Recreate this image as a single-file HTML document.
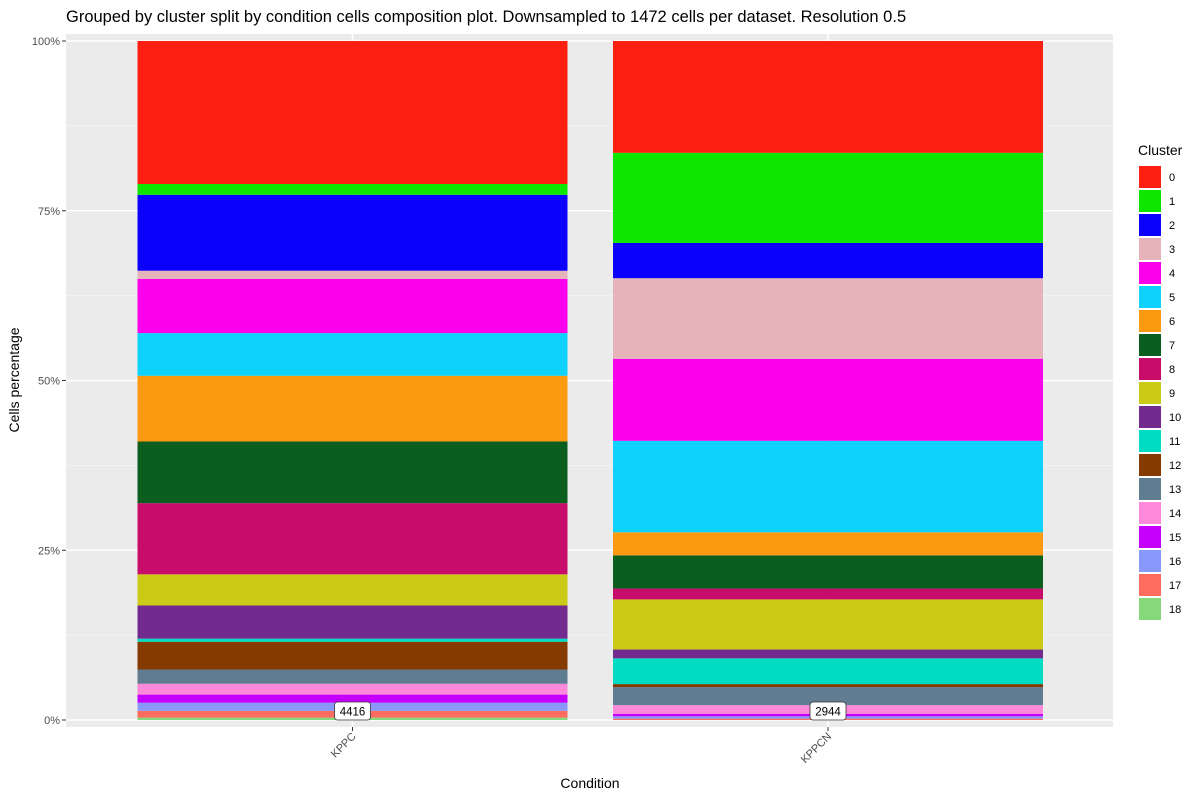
<!DOCTYPE html>
<html><head><meta charset="utf-8"><style>
body{margin:0;background:#fff;font-family:"Liberation Sans",Arial,sans-serif}
svg text{font-family:"Liberation Sans",Arial,sans-serif}
</style></head><body>
<svg id="chart" width="1200" height="800" xmlns="http://www.w3.org/2000/svg">
<text x="66" y="22" font-size="16.5" fill="#000">Grouped by cluster split by condition cells composition plot. Downsampled to 1472 cells per dataset. Resolution 0.5</text>
<rect x="66" y="34" width="1047" height="693" fill="#ebebeb"/>
<g id="grid"></g>
<g id="bars"></g>
<g id="axes"></g>
<text transform="translate(19,380) rotate(-90)" text-anchor="middle" font-size="14">Cells percentage</text>
<text x="590" y="788" text-anchor="middle" font-size="14">Condition</text>
<text x="1138" y="155" font-size="14">Cluster</text>
<g id="legend"></g>
</svg>
<script>
const categories = ["KPPC", "KPPCN"];
const totals = [4416, 2944];
const clusters = ["0","1","2","3","4","5","6","7","8","9","10","11","12","13","14","15","16","17","18"];
const colors = ["#fc1e10","#0ee600","#0a00fc","#e7b3bb","#fb00ec","#0ed2fc","#fb9a10","#0c5e1f","#c80c69","#cbca16","#732a8f","#00dcc1","#853a00","#5f7c91","#fe88d9","#c400fc","#8898fb","#fd6c5c","#85d97a"];
const kppcValues = [21.1,1.6,11.2,1.2,8.0,6.3,9.7,9.1,10.5,4.6,4.9,0.45,4.1,2.1,1.6,1.2,1.2,1.0,0.35];
const kppcnValues = [16.5,13.3,5.2,11.9,12.1,13.5,3.4,4.9,1.6,7.4,1.3,3.8,0.45,2.65,1.3,0.35,0.35,0.2,0.0];
const yTicks = [0,25,50,75,100];
const yTickLabels = ["0%","25%","50%","75%","100%"];

const NS="http://www.w3.org/2000/svg";
const y0=720, y100=41;
const yScale=p=>y0-(y0-y100)*p/100;
const xCenters=[352.5,828], barW=430;
const xScale=i=>xCenters[i];
function mk(tag,attrs,parent){const e=document.createElementNS(NS,tag);for(const k in attrs)e.setAttribute(k,attrs[k]);parent.appendChild(e);return e;}
const grid=document.getElementById('grid'), bars=document.getElementById('bars'), axes=document.getElementById('axes'), legend=document.getElementById('legend');
// minor grid
for(let i=0;i<yTicks.length-1;i++){const m=(yTicks[i]+yTicks[i+1])/2;const l=mk('line',{x1:66,x2:1113,y1:yScale(m),y2:yScale(m),stroke:'#f5f5f5','stroke-width':0.8},grid);

}
yTicks.forEach((t,i)=>{const l=mk('line',{x1:66,x2:1113,y1:yScale(t),y2:yScale(t),stroke:'#fff','stroke-width':1.6},grid);


const tk=mk('line',{x1:62,x2:66,y1:yScale(t),y2:yScale(t),stroke:'#333','stroke-width':1},axes);


const tx=mk('text',{x:60,y:yScale(t)+4,'text-anchor':'end','font-size':11,fill:'#4d4d4d'},axes);tx.textContent=yTickLabels[i];

});
categories.forEach((c,i)=>{const gl=mk('line',{x1:xScale(i),x2:xScale(i),y1:34,y2:727,stroke:'#fff','stroke-width':1.6},grid);

});
const series=[kppcValues,kppcnValues];
series.forEach((vals,i)=>{const tot=vals.reduce((a,b)=>a+b,0);let cum=0;
for(let k=vals.length-1;k>=0;k--){const v=vals[k]/tot*100;if(v<=0)continue;const yt=yScale(cum+v),yb=yScale(cum);
const r=mk('rect',{x:xScale(i)-barW/2,y:yt,width:barW,height:yb-yt,fill:colors[k]},bars);


cum+=v;}
const tk=mk('line',{x1:xScale(i),x2:xScale(i),y1:727,y2:731,stroke:'#333'},axes);


const lbl=mk('text',{transform:`translate(${xScale(i)+4},737) rotate(-45)`,'text-anchor':'end','font-size':11,fill:'#4d4d4d'},axes);lbl.textContent=categories[i];


const bw=totals[i].toString().length*7+8;
const bx=mk('rect',{x:xScale(i)-bw/2,y:702,width:bw,height:18,rx:3,fill:'#fff',stroke:'#333','stroke-width':0.8},bars);


const bt=mk('text',{x:xScale(i),y:715.5,'text-anchor':'middle','font-size':11.5,fill:'#000'},bars);bt.textContent=totals[i];

});
clusters.forEach((c,k)=>{const y=166+k*24;
const r=mk('rect',{x:1139,y:y,width:22,height:22,fill:colors[k]},legend);


const t=mk('text',{x:1169,y:y+15,'font-size':11,fill:'#000'},legend);t.textContent=c;

});
</script>
</body></html>
